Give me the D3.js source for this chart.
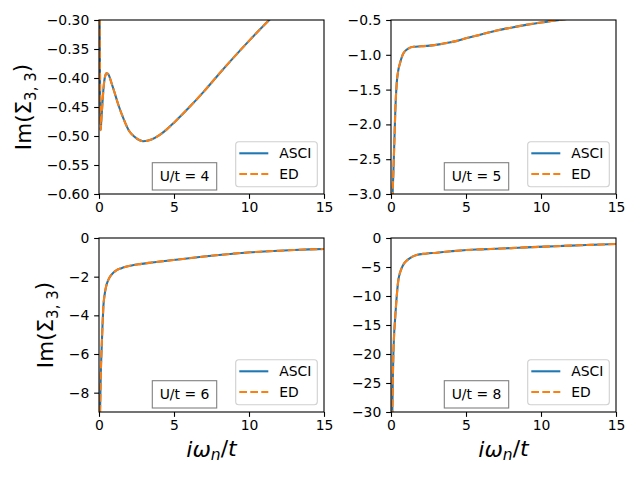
<!DOCTYPE html>
<html>
<head>
<meta charset="utf-8">
<script src="https://cdn.jsdelivr.net/npm/d3@7"></script>
<style>
  body { margin: 0; background: #fff; }
  text { font-family: "DejaVu Sans", sans-serif; fill: #000; }
</style>
</head>
<body>
<div id="chart"></div>
<script>
    // valores (iw_n/t, Im Sigma_33)
    var xTicks = [0, 5, 10, 15]
    var etiquetasU = ["U/t = 4", "U/t = 5", "U/t = 6", "U/t = 8"]
    var series = ["ASCI", "ED"]

    var w4 = [0.03, 0.11, 0.15, 0.22, 0.3, 0.4, 0.5, 0.6, 0.7, 0.85, 1.0, 1.3, 1.6, 2.0, 2.4, 2.95, 3.5, 4.0, 4.5, 5.0, 6.0, 7.0, 8.0, 9.0, 10.0, 11.0, 12.0, 13.0, 14.0, 15.0]
    var asci4 = [-0.22, -0.49, -0.475, -0.447, -0.418, -0.398, -0.392, -0.393, -0.398, -0.41, -0.422, -0.447, -0.468, -0.491, -0.502, -0.509, -0.506, -0.499, -0.489, -0.477, -0.451, -0.423, -0.393, -0.364, -0.336, -0.309, -0.284, -0.261, -0.240, -0.220]
    var ed4 = [-0.22, -0.49, -0.475, -0.447, -0.418, -0.398, -0.392, -0.393, -0.398, -0.41, -0.422, -0.447, -0.468, -0.491, -0.502, -0.509, -0.506, -0.499, -0.489, -0.477, -0.451, -0.423, -0.393, -0.364, -0.336, -0.309, -0.284, -0.261, -0.240, -0.220]
    var yTicks4 = [-0.60, -0.55, -0.50, -0.45, -0.40, -0.35, -0.30]
    var yDominio4 = [-0.60, -0.30]

    var w5 = [0.09, 0.11, 0.15, 0.22, 0.29, 0.38, 0.48, 0.6, 0.82, 1.15, 1.5, 2.0, 2.6, 3.2, 3.7, 4.4, 5.05, 6.0, 7.05, 8.0, 9.0, 10.0, 11.0, 12.0, 13.0, 14.0, 15.0]
    var asci5 = [-3.4, -3.0, -2.75, -2.27, -1.79, -1.41, -1.23, -1.12, -0.98, -0.91, -0.885, -0.878, -0.868, -0.85, -0.83, -0.80, -0.76, -0.71, -0.65, -0.61, -0.57, -0.535, -0.505, -0.478, -0.455, -0.433, -0.413]
    var ed5 = [-3.4, -3.0, -2.75, -2.27, -1.79, -1.41, -1.23, -1.12, -0.98, -0.91, -0.885, -0.878, -0.868, -0.85, -0.83, -0.80, -0.76, -0.71, -0.65, -0.61, -0.57, -0.535, -0.505, -0.478, -0.455, -0.433, -0.413]
    var yTicks5 = [-3.0, -2.5, -2.0, -1.5, -1.0, -0.5]
    var yDominio5 = [-3.0, -0.5]

    var w6 = [0.05, 0.07, 0.12, 0.18, 0.24, 0.29, 0.38, 0.47, 0.6, 0.73, 0.95, 1.18, 1.5, 1.85, 2.73, 3.5, 4.96, 6.0, 7.0, 8.0, 9.0, 10.07, 11.0, 12.0, 13.0, 14.0, 15.0]
    var asci6 = [-9.6, -9.0, -7.0, -5.63, -4.4, -3.56, -2.9, -2.52, -2.2, -2.0, -1.8, -1.66, -1.56, -1.48, -1.35, -1.27, -1.14, -1.05, -0.96, -0.88, -0.81, -0.74, -0.70, -0.66, -0.62, -0.59, -0.57]
    var ed6 = [-9.6, -9.0, -7.0, -5.63, -4.4, -3.56, -2.9, -2.52, -2.2, -2.0, -1.8, -1.66, -1.56, -1.48, -1.35, -1.27, -1.14, -1.05, -0.96, -0.88, -0.81, -0.74, -0.70, -0.66, -0.62, -0.59, -0.57]
    var yTicks6 = [-8, -6, -4, -2, 0]
    var yDominio6 = [-9, 0]

    var w8 = [0.08, 0.09, 0.12, 0.16, 0.21, 0.27, 0.38, 0.49, 0.6, 0.71, 0.9, 1.15, 1.4, 1.71, 2.3, 3.04, 4.0, 5.04, 6.0, 7.0, 8.0, 9.0, 10.2, 11.0, 12.0, 13.0, 14.0, 15.0]
    var asci8 = [-31, -30, -24.5, -19.9, -16.5, -14.1, -10.1, -7.24, -6.0, -5.2, -4.3, -3.68, -3.25, -2.93, -2.7, -2.53, -2.29, -2.07, -1.96, -1.85, -1.74, -1.62, -1.49, -1.41, -1.32, -1.22, -1.12, -1.03]
    var ed8 = [-31, -30, -24.5, -19.9, -16.5, -14.1, -10.1, -7.24, -6.0, -5.2, -4.3, -3.68, -3.25, -2.93, -2.7, -2.53, -2.29, -2.07, -1.96, -1.85, -1.74, -1.62, -1.49, -1.41, -1.32, -1.22, -1.12, -1.03]
    var yTicks8 = [-30, -25, -20, -15, -10, -5, 0]
    var yDominio8 = [-30, 0]

    var paneles = [
        { w: w4, asci: asci4, ed: ed4, ticks: yTicks4, dom: yDominio4, fmt: ".2f", fila: 0, col: 0 },
        { w: w5, asci: asci5, ed: ed5, ticks: yTicks5, dom: yDominio5, fmt: ".1f", fila: 0, col: 1 },
        { w: w6, asci: asci6, ed: ed6, ticks: yTicks6, dom: yDominio6, fmt: "d", fila: 1, col: 0 },
        { w: w8, asci: asci8, ed: ed8, ticks: yTicks8, dom: yDominio8, fmt: "d", fila: 1, col: 1 }
    ]

    var width = 640,
        height = 480,
        anchoEje = 225,
        altoEje = 174,
        izquierdas = [99, 391],
        arribas = [20, 238],
        tick = 4.86,
        fuente = "13.9px",
        colores = ["#1f77b4", "#ff7f0e"]

    var svg = d3.select("#chart").append("svg")
        .attr("width", width)
        .attr("height", height)

    paneles.forEach(function (p, i) {
        var x = d3.scaleLinear().domain([xTicks[0], xTicks[xTicks.length - 1]]).range([0, anchoEje])
        var y = d3.scaleLinear().domain(p.dom).range([altoEje, 0])

        var g = svg.append("g")
            .attr("transform", "translate(" + izquierdas[p.col] + "," + arribas[p.fila] + ")")

        g.append("clipPath")
            .attr("id", "clip" + i)
            .append("rect")
            .attr("width", anchoEje)
            .attr("height", altoEje)

        var linea = d3.line()
            .x(function (d) { return x(d[0]); })
            .y(function (d) { return y(d[1]); })
            .curve(d3.curveMonotoneX)

        var datosA = p.w.map(function (v, j) { return [v, p.asci[j]]; })
        var datosE = p.w.map(function (v, j) { return [v, p.ed[j]]; })

        var curvas = g.append("g").attr("clip-path", "url(#clip" + i + ")")
        curvas.append("path")
            .datum(datosA)
            .attr("fill", "none")
            .attr("stroke", colores[0])
            .attr("stroke-width", 2.08)
            .attr("d", linea)
        curvas.append("path")
            .datum(datosE)
            .attr("fill", "none")
            .attr("stroke", colores[1])
            .attr("stroke-width", 2.08)
            .attr("stroke-dasharray", "7.7,3.3")
            .attr("d", linea)

        var ejeX = g.append("g")
            .attr("transform", "translate(0," + altoEje + ")")
            .call(d3.axisBottom(x).tickValues(xTicks).tickSize(tick).tickPadding(3.6).tickFormat(d3.format("d")))
        var ejeY = g.append("g")
            .call(d3.axisLeft(y).tickValues(p.ticks).tickSize(tick).tickPadding(4.86).tickFormat(d3.format(p.fmt)))

        ;[ejeX, ejeY].forEach(function (e) {
            e.select(".domain").remove()
            e.selectAll(".tick line").attr("stroke", "#000").attr("stroke-width", 1.1)
            e.selectAll(".tick text").attr("fill", "#000").style("font-size", fuente).style("font-family", "DejaVu Sans")
        })

        // marco
        g.append("rect")
            .attr("width", anchoEje)
            .attr("height", altoEje)
            .attr("fill", "none")
            .attr("stroke", "#000")
            .attr("stroke-width", 1.1)

        // leyenda
        var ley = g.append("g")
            .attr("transform", "translate(" + (anchoEje - 88.3) + "," + (altoEje - 52.3) + ")")
        ley.append("rect")
            .attr("width", 81.6)
            .attr("height", 45)
            .attr("rx", 3)
            .attr("fill", "#fff")
            .attr("fill-opacity", 0.8)
            .attr("stroke", "#d0d0d0")
            .attr("stroke-width", 1.1)
        series.forEach(function (s, k) {
            var yy = 11.6 + k * 20.7
            ley.append("line")
                .attr("x1", 3.6)
                .attr("x2", 32.6)
                .attr("y1", yy)
                .attr("y2", yy)
                .attr("stroke", colores[k])
                .attr("stroke-width", 2.08)
                .attr("stroke-dasharray", k == 1 ? "7.7,3.3" : null)
            ley.append("text")
                .attr("x", 43.6)
                .attr("y", yy)
                .attr("dy", "0.36em")
                .style("font-size", fuente)
                .text(s)
        })

        // caja U/t
        g.append("rect")
            .attr("x", 53.3)
            .attr("y", altoEje - 31.3)
            .attr("width", 64.4)
            .attr("height", 27.3)
            .attr("fill", "#fff")
            .attr("stroke", "#808080")
            .attr("stroke-width", 1.1)
        g.append("text")
            .attr("x", 85.5)
            .attr("y", altoEje - 17.6)
            .attr("dy", "0.36em")
            .attr("text-anchor", "middle")
            .style("font-size", fuente)
            .text(etiquetasU[i])

        // etiqueta eje y
        if (p.col == 0) {
            var xl = p.fila == 0 ? -68 : -46
            var ty = g.append("text")
                .attr("transform", "translate(" + xl + "," + (altoEje / 2) + ") rotate(-90)")
                .attr("text-anchor", "middle")
                .style("font-size", "21.5px")
            ty.append("tspan").text("Im(Σ")
            ty.append("tspan").attr("dy", "0.3em").style("font-size", "15px").text("3, 3")
            ty.append("tspan").attr("dy", "-0.3em").text(")")
        }

        // etiqueta eje x
        if (p.fila == 1) {
            var tx = g.append("text")
                .attr("x", anchoEje / 2)
                .attr("y", altoEje + 45)
                .attr("text-anchor", "middle")
                .style("font-size", "22px")
            tx.append("tspan").style("font-style", "italic").text("iω")
            tx.append("tspan").attr("dy", "0.22em").style("font-style", "italic").style("font-size", "15.5px").text("n")
            tx.append("tspan").attr("dy", "-0.22em").text("/")
            tx.append("tspan").style("font-style", "italic").text("t")
        }
    })
</script>
</body>
</html>
